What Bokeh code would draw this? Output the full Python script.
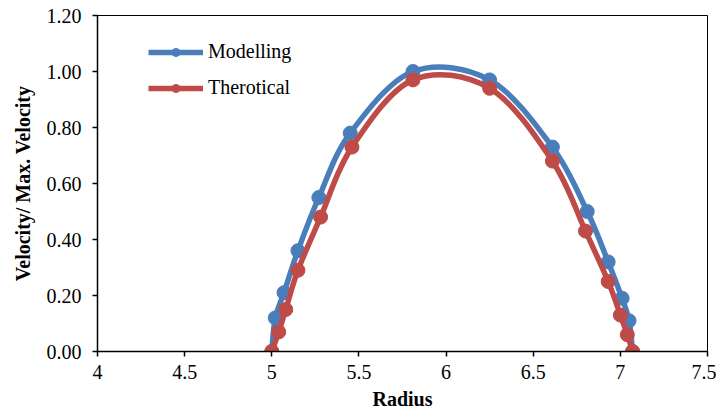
from bokeh.plotting import figure
from bokeh.models import FixedTicker, Legend, LegendItem, Range1d, CustomJSTickFormatter
from bokeh.embed import file_html
from bokeh.resources import INLINE

# ---- data ----
model_r = [5.00, 5.02, 5.07, 5.15, 5.27, 5.45, 5.81, 6.25, 6.61, 6.81, 6.93, 7.01, 7.05, 7.07]
model_v = [0.00, 0.12, 0.21, 0.36, 0.55, 0.78, 1.00, 0.97, 0.73, 0.50, 0.32, 0.19, 0.11, 0.00]
theo_r = [5.00, 5.04, 5.08, 5.15, 5.28, 5.46, 5.81, 6.25, 6.61, 6.80, 6.93, 7.00, 7.04, 7.07]
theo_v = [0.00, 0.07, 0.15, 0.29, 0.48, 0.73, 0.97, 0.94, 0.68, 0.43, 0.25, 0.13, 0.06, 0.00]

x_ticks = [4, 4.5, 5, 5.5, 6, 6.5, 7, 7.5]
x_tick_labels = ["4", "4.5", "5", "5.5", "6", "6.5", "7", "7.5"]
y_ticks = [0, 0.2, 0.4, 0.6, 0.8, 1.0, 1.2]
y_tick_labels = ["0.00", "0.20", "0.40", "0.60", "0.80", "1.00", "1.20"]

BLUE = "#4A7EBB"
RED = "#BE4B48"
FONT = "'Liberation Serif', serif"


def smooth_segments(xs, ys, t=1.0 / 6.0):
    """Bezier control points (Catmull-Rom style smoothing, like a spreadsheet's smoothed line)."""
    n = len(xs)
    x0, y0, x1, y1, cx0, cy0, cx1, cy1 = [], [], [], [], [], [], [], []
    for i in range(n - 1):
        pa = i - 1 if i > 0 else i
        pd = i + 2 if i + 2 < n else i + 1
        x0.append(xs[i]); y0.append(ys[i])
        x1.append(xs[i + 1]); y1.append(ys[i + 1])
        cx0.append(xs[i] + (xs[i + 1] - xs[pa]) * t)
        cy0.append(ys[i] + (ys[i + 1] - ys[pa]) * t)
        cx1.append(xs[i + 1] - (xs[pd] - xs[i]) * t)
        cy1.append(ys[i + 1] - (ys[pd] - ys[i]) * t)
    return dict(x0=x0, y0=y0, x1=x1, y1=y1, cx0=cx0, cy0=cy0, cx1=cx1, cy1=cy1)


def label_formatter(vals, labels):
    return CustomJSTickFormatter(args=dict(tvals=vals, tlabels=labels), code="""
        for (let i = 0; i < tvals.length; i++) {
            if (Math.abs(tvals[i] - tick) < 1e-9) { return tlabels[i]; }
        }
        return String(tick);
    """)


p = figure(width=716, height=412, output_backend="svg", toolbar_location=None,
           x_range=Range1d(4, 7.5), y_range=Range1d(0, 1.2),
           min_border_left=97, min_border_right=9, min_border_top=15, min_border_bottom=61)

p.grid.visible = False
p.outline_line_color = "black"
p.outline_line_width = 1
p.background_fill_color = "white"
p.border_fill_color = "white"

for ax in (p.xaxis[0], p.yaxis[0]):
    ax.axis_line_color = "black"
    ax.axis_line_width = 1.5
    ax.major_tick_line_color = "black"
    ax.major_tick_line_width = 1.5
    ax.major_tick_out = 5
    ax.major_tick_in = 0
    ax.minor_tick_line_color = None
    ax.major_label_text_font = FONT
    ax.major_label_text_font_style = "normal"
    ax.major_label_text_font_size = "20px"
    ax.major_label_text_color = "black"
    ax.axis_label_text_font = FONT
    ax.axis_label_text_font_size = "20px"
    ax.axis_label_text_font_style = "bold"
    ax.axis_label_text_color = "black"

p.xaxis.ticker = FixedTicker(ticks=x_ticks)
p.xaxis.formatter = label_formatter(x_ticks, x_tick_labels)
p.yaxis.ticker = FixedTicker(ticks=y_ticks)
p.yaxis.formatter = label_formatter(y_ticks, y_tick_labels)
p.xaxis.axis_label = "Radius"
p.yaxis.axis_label = "Velocity/ Max. Velocity"
p.xaxis.major_label_standoff = 8
p.yaxis.major_label_standoff = 11
p.xaxis.axis_label_standoff = 6
p.yaxis.axis_label_standoff = 10

bm = smooth_segments(model_r, model_v)
bl = p.bezier(x0=bm["x0"], y0=bm["y0"], x1=bm["x1"], y1=bm["y1"],
              cx0=bm["cx0"], cy0=bm["cy0"], cx1=bm["cx1"], cy1=bm["cy1"],
              line_color=BLUE, line_width=5.5)
bs = p.scatter(model_r, model_v, size=14, fill_color=BLUE, line_color=BLUE)

rm = smooth_segments(theo_r, theo_v)
rl = p.bezier(x0=rm["x0"], y0=rm["y0"], x1=rm["x1"], y1=rm["y1"],
              cx0=rm["cx0"], cy0=rm["cy0"], cx1=rm["cx1"], cy1=rm["cy1"],
              line_color=RED, line_width=5.5)
rs = p.scatter(theo_r, theo_v, size=14, fill_color=RED, line_color=RED)

# legend proxies (line + marker)
lb = p.line([4.0, 4.0], [2, 2], line_color=BLUE, line_width=5.5)
lr = p.line([4.0, 4.0], [2, 2], line_color=RED, line_width=5.5)

legend = Legend(items=[LegendItem(label="Modelling", renderers=[lb, bs]),
                       LegendItem(label="Therotical", renderers=[lr, rs])],
                location=(51, 252), orientation="vertical")
legend.background_fill_alpha = 0
legend.border_line_color = None
legend.padding = 0
legend.margin = 0
legend.glyph_width = 55
legend.glyph_height = 20
legend.label_height = 20
legend.spacing = 13
legend.label_standoff = 5
legend.label_text_font = FONT
legend.label_text_font_size = "20px"
legend.label_text_color = "black"
p.add_layout(legend)

open("out.html", "w").write(file_html(p, INLINE))
